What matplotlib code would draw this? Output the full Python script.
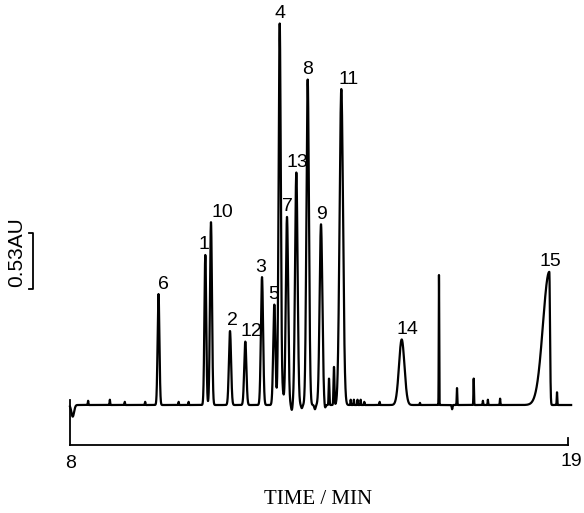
import numpy as np
import matplotlib
matplotlib.use("Agg")
import matplotlib.pyplot as plt

# labelled peaks: retention time (min), height (AU), sigma (min)
peak_labels = ['6', '1', '10', '2', '12', '3', '5', '4', '7', '13', '8', '9', '11', '14', '15']
peak_times = [9.955, 10.989, 11.114, 11.534, 11.872, 12.241, 12.513, 12.632,
              12.793, 12.999, 13.250, 13.544, 13.993, 15.327, 18.587]
peak_heights = [1.05, 1.42, 1.73, 0.70, 0.60, 1.21, 0.95, 3.61,
                1.78, 2.20, 3.08, 1.71, 2.99, 0.62, 1.26]
peak_sigmas = [0.020, 0.020, 0.022, 0.024, 0.024, 0.024, 0.024, 0.024,
               0.026, 0.028, 0.028, 0.030, 0.038, 0.060, 0.015]
# peak 15 is fronting: wider rise on the left side
peak_front = {'15': 0.14}

# unlabelled spikes, dips and baseline noise
minor_times = [8.06, 8.40, 8.88, 9.21, 9.66, 10.40, 10.62,
               12.70, 12.90, 13.12, 13.41, 13.63, 13.721, 13.831,
               14.20, 14.27, 14.35, 14.42, 14.50, 14.84,
               15.73, 16.150, 16.44, 16.548, 16.917, 17.12, 17.23, 17.50, 18.757]
minor_heights = [-0.11, 0.04, 0.05, 0.03, 0.03, 0.03, 0.03,
                 0.10, -0.05, -0.03, -0.04, -0.04, 0.25, 0.36,
                 0.05, 0.05, 0.05, 0.05, 0.03, 0.03,
                 0.02, 1.23, -0.04, 0.16, 0.25, 0.04, 0.05, 0.06, 0.12]
minor_sigmas = [0.03, 0.006, 0.006, 0.006, 0.006, 0.006, 0.006,
                0.02, 0.015, 0.015, 0.015, 0.015, 0.008, 0.010,
                0.005, 0.005, 0.005, 0.005, 0.005, 0.005,
                0.006, 0.005, 0.008, 0.006, 0.006, 0.005, 0.005, 0.006, 0.006]

t_start, t_end = 8.0, 19.07
tick_values = [8, 19]
scale_au = 0.53

# ---- layout (figure is 584 x 513 px, axes fill it) ----
W, H = 584, 513
X0_PX, X1_PX = 70, 568          # pixel columns of 8 and 19 min
BASE_PX = 405                    # pixel row of the baseline
PX_PER_AU = 56 / 0.53
min_per_px = (tick_values[1] - tick_values[0]) / (X1_PX - X0_PX)


def px_x(px):
    return tick_values[0] + (px - X0_PX) * min_per_px


def px_y(py):
    return (BASE_PX - py) / PX_PER_AU


label_dx = {'6': 5, '1': -1, '10': 11, '2': 2, '12': 6, '3': -1, '5': -1, '4': 0,
            '7': 0, '13': 1, '8': 0, '9': 1, '11': 7, '14': 6, '15': 1}

# ---- build trace ----
t = np.arange(t_start, t_end, 0.001)
y = np.zeros_like(t)
for lab, tc, h, s in zip(peak_labels, peak_times, peak_heights, peak_sigmas):
    if lab in peak_front:
        sig = np.where(t < tc, peak_front[lab], s)
    else:
        sig = s
    y += h * np.exp(-0.5 * ((t - tc) / sig) ** 2)
for tc, h, s in zip(minor_times, minor_heights, minor_sigmas):
    y += h * np.exp(-0.5 * ((t - tc) / s) ** 2)

fig = plt.figure(figsize=(W / 100, H / 100), dpi=100)
ax = fig.add_axes([0, 0, 1, 1])
ax.set_xlim(px_x(0), px_x(W))
ax.set_ylim(px_y(H), px_y(0))
ax.axis('off')

ax.plot(t, y, color='black', lw=1.6)

# time axis with end ticks
axis_y = px_y(445)
ax.plot(tick_values, [axis_y, axis_y], color='black', lw=1.3)
ax.plot([tick_values[0]] * 2, [axis_y, px_y(400)], color='black', lw=1.3)
ax.plot([tick_values[1]] * 2, [axis_y, px_y(438)], color='black', lw=1.3)
sans = 'Liberation Sans'
ax.text(px_x(70.5), px_y(464), str(tick_values[0]), fontsize=14, family=sans,
        ha='center', va='center')
ax.text(px_x(571), px_y(461), str(tick_values[1]), fontsize=14, family=sans,
        ha='center', va='center')
ax.text(px_x(318), px_y(499), 'TIME / MIN', fontsize=15, family='Liberation Serif',
        ha='center', va='center')

# peak labels
for lab, tc, h in zip(peak_labels, peak_times, peak_heights):
    ax.annotate(lab, (tc, h), xytext=(label_dx[lab] * 0.72, 4),
                textcoords='offset points', ha='center', va='baseline',
                fontsize=14, family=sans)

# absorbance scale bar
bx = px_x(33)
b0 = px_y(289)
b1 = b0 + scale_au
tick = 3.5 * min_per_px
ax.plot([bx - tick, bx, bx, bx - tick], [b0, b0, b1, b1], color='black', lw=1.3)
ax.text(px_x(17), px_y(252), f'{scale_au}AU', rotation=90, fontsize=15,
        family=sans, ha='center', va='center')

fig.savefig('out.png', dpi=100)
